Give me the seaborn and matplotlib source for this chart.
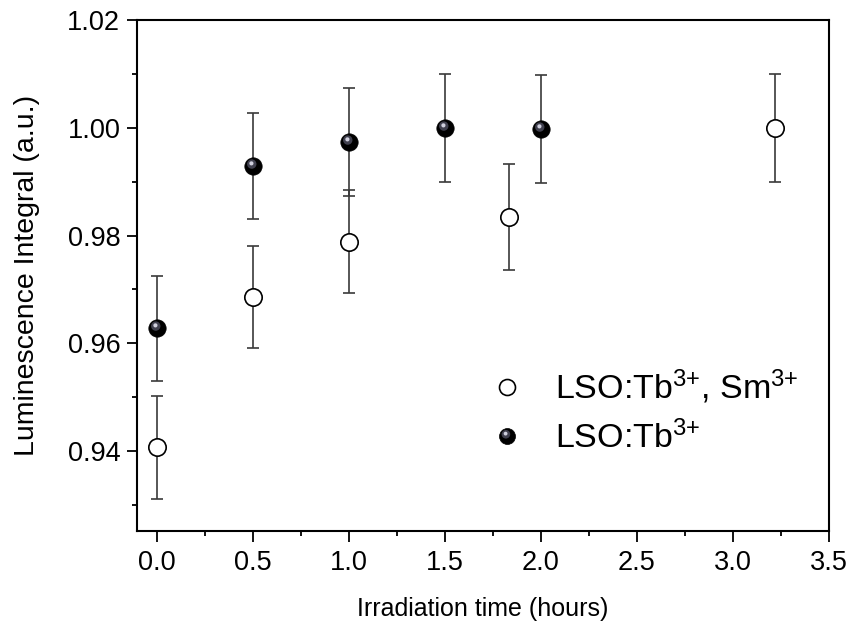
#!/usr/bin/env python3
"""
Luminescence integral vs irradiation time, two samples with error bars
"""

import numpy as np
import pandas as pd
import matplotlib
matplotlib.use("Agg")
import matplotlib.pyplot as plt
import seaborn as sns
from matplotlib.path import Path
from matplotlib.lines import Line2D
from matplotlib.legend_handler import HandlerTuple
from matplotlib.ticker import MultipleLocator

# data
time_tbsm = [0.0, 0.5, 1.0, 1.833, 3.22]
lum_tbsm = [0.9407, 0.9686, 0.9789, 0.9835, 1.0000]
err_tbsm = [0.0095, 0.0095, 0.0096, 0.0098, 0.0100]

time_tb = [0.0, 0.5, 1.0, 1.5, 2.0]
lum_tb = [0.9628, 0.9929, 0.9973, 1.0000, 0.9998]
err_tb = [0.0097, 0.0099, 0.0100, 0.0100, 0.0100]

label_tbsm = r"LSO:Tb$^{3{+}}$, Sm$^{3{+}}$"
label_tb = r"LSO:Tb$^{3{+}}$"

df_tbsm = pd.DataFrame({"time": time_tbsm, "lum": lum_tbsm, "err": err_tbsm})
df_tb = pd.DataFrame({"time": time_tb, "lum": lum_tb, "err": err_tb})


def blob_marker(cx, cy, r):
    """Circle marker offset from centre; a corner moveto keeps the scale fixed."""
    circ = Path.circle((cx, cy), r)
    verts = np.vstack([[[0.5, -0.5]], circ.vertices])
    codes = np.concatenate([[Path.MOVETO], circ.codes])
    return Path(verts, codes)


shade_mid = blob_marker(-0.10, 0.14, 0.27)
shade_hi = blob_marker(-0.12, 0.18, 0.12)

sns.set_theme(style="ticks")
plt.rcParams["font.family"] = ["Liberation Sans", "DejaVu Sans"]
plt.rcParams["mathtext.fontset"] = "custom"
plt.rcParams["mathtext.rm"] = "Liberation Sans"
plt.rcParams["mathtext.it"] = "Liberation Sans"

fig = plt.figure(figsize=(8.54, 6.28), dpi=100)
ax = fig.add_axes([0.1604, 0.1545, 0.8103, 0.8137])

msize = 12.5
ebar_kw = dict(fmt="none", ecolor="#3a3a3a", elinewidth=1.2, capsize=4.0,
               capthick=1.2, zorder=2)

ax.errorbar(df_tbsm["time"], df_tbsm["lum"], yerr=df_tbsm["err"], **ebar_kw)
ax.errorbar(df_tb["time"], df_tb["lum"], yerr=df_tb["err"], **ebar_kw)

sns.scatterplot(data=df_tbsm, x="time", y="lum", ax=ax, s=msize**2,
                color="white", edgecolor="black", linewidth=1.2, zorder=3,
                legend=False)
sns.scatterplot(data=df_tb, x="time", y="lum", ax=ax, s=msize**2,
                color="black", edgecolor="black", linewidth=0.5, zorder=3,
                legend=False)
# sphere-like shading on the filled markers
ax.plot(df_tb["time"], df_tb["lum"], ls="none", marker=shade_mid,
        markersize=msize, color="#40404e", markeredgewidth=0, zorder=4)
ax.plot(df_tb["time"], df_tb["lum"], ls="none", marker=shade_hi,
        markersize=msize, color="#d0d0de", markeredgewidth=0, zorder=5)

ax.set_xlim(-0.104, 3.5)
ax.set_ylim(0.9252, 1.02)
ax.xaxis.set_major_locator(MultipleLocator(0.5))
ax.xaxis.set_minor_locator(MultipleLocator(0.25))
ax.yaxis.set_major_locator(MultipleLocator(0.02))
ax.yaxis.set_minor_locator(MultipleLocator(0.01))
ax.xaxis.set_major_formatter(plt.FormatStrFormatter("%.1f"))
ax.yaxis.set_major_formatter(plt.FormatStrFormatter("%.2f"))

ax.tick_params(axis="both", which="major", direction="out", width=1.3,
               labelsize=19.5, color="black", labelcolor="black")
ax.tick_params(axis="x", which="major", length=8, pad=6)
ax.tick_params(axis="y", which="major", length=7, pad=5)
ax.tick_params(axis="both", which="minor", direction="out", length=3.8,
               width=1.3, color="black")
for side in ["left", "bottom", "top", "right"]:
    ax.spines[side].set_visible(True)
    ax.spines[side].set_linewidth(1.5)
    ax.spines[side].set_color("black")

ax.set_xlabel("Irradiation time (hours)", fontsize=18, labelpad=15,
              color="black")
ax.set_ylabel("Luminescence Integral (a.u.)", fontsize=20.5, labelpad=20,
              color="black")

h_open = Line2D([], [], ls="none", marker="o", markersize=msize - 1,
                markerfacecolor="white", markeredgecolor="black",
                markeredgewidth=1.2)
h_base = Line2D([], [], ls="none", marker="o", markersize=msize - 1,
                markerfacecolor="black", markeredgecolor="black",
                markeredgewidth=0.5)
h_mid = Line2D([], [], ls="none", marker=shade_mid, markersize=msize - 1,
               color="#40404e", markeredgewidth=0)
h_hi = Line2D([], [], ls="none", marker=shade_hi, markersize=msize - 1,
              color="#d0d0de", markeredgewidth=0)

leg = ax.legend([h_open, (h_base, h_mid, h_hi)], [label_tbsm, label_tb],
                handler_map={tuple: HandlerTuple(ndivide=1, pad=0)},
                loc="center left", bbox_to_anchor=(0.510, 0.234),
                frameon=False, fontsize=24.5, handlelength=1.0,
                handletextpad=0.9, labelspacing=0.42, borderaxespad=0,
                borderpad=0)
for txt in leg.get_texts():
    txt.set_color("black")

fig.savefig("out.png", dpi=100)
plt.close(fig)
